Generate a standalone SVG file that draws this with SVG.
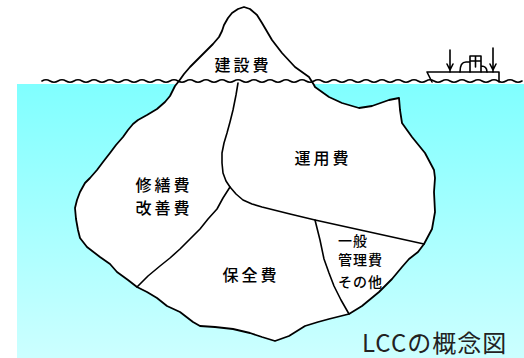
<svg xmlns="http://www.w3.org/2000/svg" width="524" height="358" viewBox="0 0 524 358">
  <defs>
    <linearGradient id="sea" x1="0" y1="0" x2="0" y2="1">
      <stop offset="0" stop-color="#80ffff"/>
      <stop offset="1" stop-color="#ccffff"/>
    </linearGradient>
  </defs>
  <style>
    .ink { fill: none; stroke: #000; stroke-width: 1.6; stroke-linejoin: round; stroke-linecap: round; }
    .berg { fill: #fff; stroke: #000; stroke-width: 1.8; stroke-linejoin: round; }
    .lbl { font-family: "Noto Sans CJK JP", "Noto Sans", sans-serif; font-size: 16px; font-weight: 500; fill: #000; letter-spacing: 3px; text-anchor: middle; }
    .small { font-family: "Noto Sans CJK JP", "Noto Sans", sans-serif; font-size: 14px; font-weight: 500; fill: #000; letter-spacing: 1px; }
    .caption { font-family: "Noto Sans CJK JP", "Noto Sans", sans-serif; font-size: 24px; fill: #222; letter-spacing: 1px; }
  </style>

  <rect width="524" height="358" fill="#fff"/>
  <!-- sea -->
  <rect id="sea-body" x="17" y="84" width="507" height="274" fill="url(#sea)"/>

  <!-- iceberg -->
  <g id="iceberg">
    <path class="berg" d="M244,7 L238,9 L232,13 L228,18 L224,25 L222,31 L219,37 L213,44 L207,50 L199,58 L190,67 L184,74 L179,81 L175,86 L170,96 L165,102 L157,109 L147,115 L138,120 L133,124 L128,130 L123,137 L116,145 L110,153 L103,162 L97,170 L90,178 L85,183 L80,192 L77,200 L75,208 L76,219 L78,230 L80,238 L87,247 L100,257 L110,264 L117,272 L128,280 L137,287 L147,292 L157,298 L167,306 L180,312 L193,322 L200,326 L215,327 L233,329 L250,333 L262,337 L275,341 L289,336 L305,326 L318,322 L329,319 L349,314 L362,306 L379,292 L392,279 L402,267 L409,259 L418,252 L424,244 L432,229 L435,212 L434,192 L435,178 L434,170 L425,153 L412,137 L402,123 L400,110 L399,98 L389,100 L372,106 L359,108 L342,103 L329,97 L315,87 L314,85 L309,77 L295,67 L282,53 L272,40 L262,23 L257,15 L250,9 Z"/>
  </g>

  <!-- waterline -->
  <path id="waterline" class="ink" d="M42,81 q4,-2.5 8,0 t8,0 t8,0 t8,0 t8,0 t8,0 t8,0 t8,0 t8,0 t8,0 t8,0 t8,0 t8,0 t8,0 t8,0 t8,0 t8,0 t8,0 t8,0 t8,0 t8,0 t8,0 t8,0 t8,0 t8,0 t8,0 t8,0 t8,0 t8,0 t8,0 t8,0 t8,0 t8,0 t8,0 t8,0 t8,0 t8,0 t8,0 t8,0 t8,0 t8,0 t8,0 t8,0 t8,0 t8,0 t8,0 t8,0 t8,0 t8,0 t8,0 t8,0 t8,0 t8,0 t8,0 t8,0 t8,0 t8,0 t8,0 t8,0 t8,0"/>

  <!-- cost divisions -->
  <g id="connectors" class="ink">
    <path d="M238,83 L236,95 L233,110 L230,122 L227,133 L224,143 L222,153 L222,163 L223,173 L226,181 L230,187 L223,198 L217,209 L208,219 L200,229 L190,239 L180,249 L170,258 L160,266 L148,276 L137,287"/>
    <path d="M230,187 L236,194 L243,200 L252,204 L262,207 L290,214 L315,220 L424,244"/>
    <path d="M315,220 L320,240 L324,259 L329,273 L334,286 L341,300 L349,314"/>
  </g>

  <!-- ship -->
  <g id="ship" class="ink">
    <path d="M432,82 L427,72 L499,72 L499,82"/>
    <path d="M450,50 L450,72 M447,64 L450,70 L453,64"/>
    <path d="M493,48 L493,72 M490,64 L493,70 L496,64"/>
    <path d="M460,72 C460,66 462,62 466,62 L470,62 M470,72 L470,56 L481,56 L481,72 M475.5,56 L475.5,67 M470,61 L481,61 M481,66 C485,66 487,68 487,72"/>
  </g>

  <!-- labels -->
  <g id="node-construction"><text class="lbl" x="243" y="71">建設費</text></g>
  <g id="node-operation"><text class="lbl" x="323" y="164">運用費</text></g>
  <g id="node-repair">
    <text class="lbl" x="164" y="191">修繕費</text>
    <text class="lbl" x="164" y="214">改善費</text>
  </g>
  <g id="node-maintenance"><text class="lbl" x="251" y="281">保全費</text></g>
  <g id="node-admin">
    <text class="small" x="338" y="246">一般</text>
    <text class="small" x="338" y="265">管理費</text>
    <text class="small" x="338" y="287">その他</text>
  </g>
  <text class="caption" x="362" y="352">LCCの概念図</text>
</svg>
